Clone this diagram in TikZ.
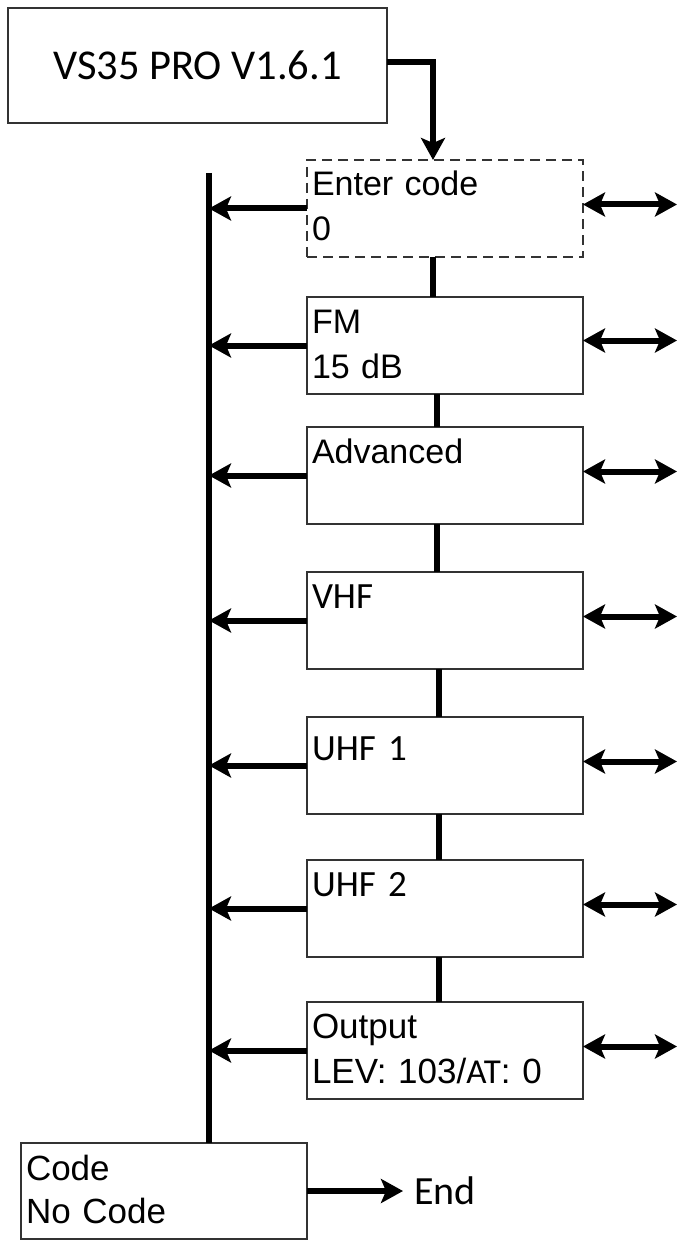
\documentclass[tikz,border=0pt]{standalone}
\usepackage{fontspec}
\setmainfont{Liberation Sans}
\newfontfamily\calib{Carlito}
\definecolor{boxgray}{rgb}{0.2, 0.2, 0.2}
\usetikzlibrary{
    arrows.meta,
    positioning,
    calc
}
\tikzstyle{menubox} = [
    rectangle,
    draw=boxgray,
    line width=2.8pt,
    outer sep=0pt,
    text width=266pt,
    inner xsep=5pt,
    inner ysep=0pt,
    text height=36pt,
    text depth=61pt,
    align=left,
    font=\fontsize{34}{45}\selectfont
]
\tikzstyle{dashbox} = [
    menubox,
    dash pattern=on 10pt off 6pt
]
\tikzstyle{calbox} = [
    menubox,
    font=\calib\fontsize{37}{45}\selectfont
]
\tikzstyle{codebox} = [
    menubox,
    text width=276pt,
    text height=37pt,
    text depth=59pt,
    font=\fontsize{35}{43}\selectfont
]
\tikzstyle{titlebox} = [
    rectangle,
    draw=boxgray,
    line width=2.8pt,
    outer sep=0pt,
    minimum width=379pt,
    minimum height=115pt,
    font=\calib\fontsize{42.5}{50}\selectfont
]
\tikzstyle{link} = [
    line width=6pt,
    draw=black
]
\tikzstyle{arrow} = [
    link,
    -{Stealth[length=22pt, width=24pt, inset=5pt]}
]
\tikzstyle{both} = [
    link,
    {Stealth[length=22pt, width=24pt, inset=5pt]}-{Stealth[length=22pt, width=24pt, inset=5pt]}
]

\begin{document}
\begin{tikzpicture}[x=1pt, y=1pt]
    \useasboundingbox (0,0) rectangle (678,-1241);

    % Menu boxes
    \node[titlebox] (title) at (197.5,-65.5) {VS35 PRO V1.6.1};

    \node[dashbox] (enter) at (445,-208.5) {Enter code\\0};
    \node[menubox, below=40pt of enter] (fm) {FM\\15 dB};
    \node[menubox, below=33pt of fm] (adv) {Advanced};
    \node[calbox, below=48pt of adv] (vhf) {VHF};
    \node[calbox, below=48pt of vhf, text height=43pt, text depth=54pt] (uhfa) {UHF 1};
    \node[calbox, below=46pt of uhfa] (uhfb) {UHF 2};
    \node[menubox, below=45pt of uhfb, font=\fontsize{35}{45}\selectfont] (outp)
        {Output\\LEV: 103/{\calib AT}: 0};

    \node[codebox] (code) at (164,-1191) {Code\\No Code};
    \node[right=107pt of code, inner sep=0pt, font=\calib\fontsize{40}{46}\selectfont] (endlbl) {End};

    \coordinate (bustop) at (209,-173);
    \coordinate (rim) at (677,0);

    % Main column
    \draw[arrow] ($(title.east)+(0,3.5)$) -| ($(enter.north)+(-12,0)$);
    \draw[link] ($(enter.south)+(-12,0)$) -- ($(fm.north)+(-12,0)$);
    \draw[link] ($(fm.south)+(-8,0)$) -- ($(adv.north)+(-8,0)$);
    \draw[link] ($(adv.south)+(-8,0)$) -- ($(vhf.north)+(-8,0)$);
    \draw[link] ($(vhf.south)+(-6,0)$) -- ($(uhfa.north)+(-6,0)$);
    \draw[link] ($(uhfa.south)+(-6,0)$) -- ($(uhfb.north)+(-6,0)$);
    \draw[link] ($(uhfb.south)+(-6,0)$) -- ($(outp.north)+(-6,0)$);

    % Return bus
    \draw[link] (bustop) -- (bustop |- code.north);
    \draw[arrow] (enter.west) -- (enter.west -| bustop);
    \draw[arrow] (fm.west) -- (fm.west -| bustop);
    \draw[arrow] (adv.west) -- (adv.west -| bustop);
    \draw[arrow] (vhf.west) -- (vhf.west -| bustop);
    \draw[arrow] (uhfa.west) -- (uhfa.west -| bustop);
    \draw[arrow] (uhfb.west) -- (uhfb.west -| bustop);
    \draw[arrow] (outp.west) -- (outp.west -| bustop);

    % Side arrows
    \draw[both] ($(enter.east)+(0,4)$) -- ($(enter.east -| rim)+(0,4)$);
    \draw[both] ($(fm.east)+(0,5)$) -- ($(fm.east -| rim)+(0,5)$);
    \draw[both] ($(adv.east)+(0,4)$) -- ($(adv.east -| rim)+(0,4)$);
    \draw[both] ($(vhf.east)+(0,4)$) -- ($(vhf.east -| rim)+(0,4)$);
    \draw[both] ($(uhfa.east)+(0,4)$) -- ($(uhfa.east -| rim)+(0,4)$);
    \draw[both] ($(uhfb.east)+(0,4)$) -- ($(uhfb.east -| rim)+(0,4)$);
    \draw[both] ($(outp.east)+(0,4)$) -- ($(outp.east -| rim)+(0,4)$);

    % Exit
    \draw[arrow, shorten >=11pt] (code) -- (endlbl);
\end{tikzpicture}
\end{document}
